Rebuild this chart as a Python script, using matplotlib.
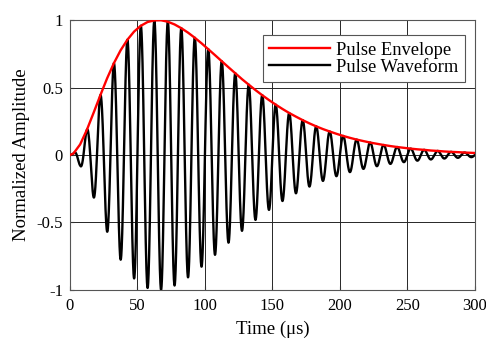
import numpy as np
import matplotlib
matplotlib.use("Agg")
import matplotlib.pyplot as plt

# Envelope at the waveform extrema (us)
env_t = [0.0] + [2.5 + 5 * k for k in range(60)] + [300.0]
env_v = [0.0,
         0.010, 0.078, 0.186, 0.313, 0.443, 0.568, 0.680, 0.776, 0.854, 0.915,
         0.958, 0.986, 0.998, 0.999, 0.988, 0.968, 0.940, 0.907, 0.869, 0.828,
         0.784, 0.740, 0.695, 0.650, 0.606, 0.562, 0.521, 0.481, 0.443, 0.407,
         0.373, 0.341, 0.311, 0.284, 0.258, 0.234, 0.212, 0.192, 0.174, 0.157,
         0.141, 0.127, 0.114, 0.103, 0.092, 0.083, 0.074, 0.066, 0.059, 0.053,
         0.047, 0.042, 0.038, 0.033, 0.030, 0.026, 0.023, 0.021, 0.018, 0.016,
         0.015]
carrier_mhz = 0.1  # 10 us period, read from peak spacing

x_ticks = [0, 50, 100, 150, 200, 250, 300]
y_ticks = [-1, -0.5, 0, 0.5, 1]
y_labels = ["-1", "-0.5", "0", "0.5", "1"]

plt.rcParams["font.family"] = ["Liberation Serif", "DejaVu Serif"]
plt.rcParams["axes.unicode_minus"] = False

# waveform = envelope times carrier
t = np.linspace(0, 300, 6001)
wave = np.interp(t, env_t, env_v) * np.sin(2 * np.pi * carrier_mhz * t)

fig = plt.figure(figsize=(4.86, 3.41), dpi=100)
ax = fig.add_axes([0.144, 0.150, 0.833, 0.791])

ax.plot(env_t, env_v, color="red", lw=1.7, label="Pulse Envelope", zorder=3)
ax.plot(t, wave, color="black", lw=1.7, label="Pulse Waveform", zorder=2)

ax.set_xlim(0, 300)
ax.set_ylim(-1, 1)
ax.set_xticks(x_ticks)
ax.set_yticks(y_ticks)
ax.set_yticklabels(y_labels)
ax.tick_params(direction="in", labelsize=12, length=3, color="#333333")
ax.tick_params(axis="x", pad=6)
ax.tick_params(axis="y", pad=5)
ax.grid(True, color="#262626", lw=0.7)
for s in ax.spines.values():
    s.set_color("#555555")
    s.set_linewidth(0.8)

ax.set_xlabel("Time (\u03bcs)", fontsize=13.5, labelpad=5)
ax.set_ylabel("Normalized Amplitude", fontsize=13.5, labelpad=5)

leg = ax.legend(loc="upper right", bbox_to_anchor=(0.975, 0.944),
                fontsize=13.3, fancybox=False, framealpha=1,
                edgecolor="#555555", handlelength=3.3, handletextpad=0.3,
                borderaxespad=0, borderpad=0.35, labelspacing=0.0)
leg.get_frame().set_linewidth(0.8)

fig.savefig("out.png", dpi=100)
